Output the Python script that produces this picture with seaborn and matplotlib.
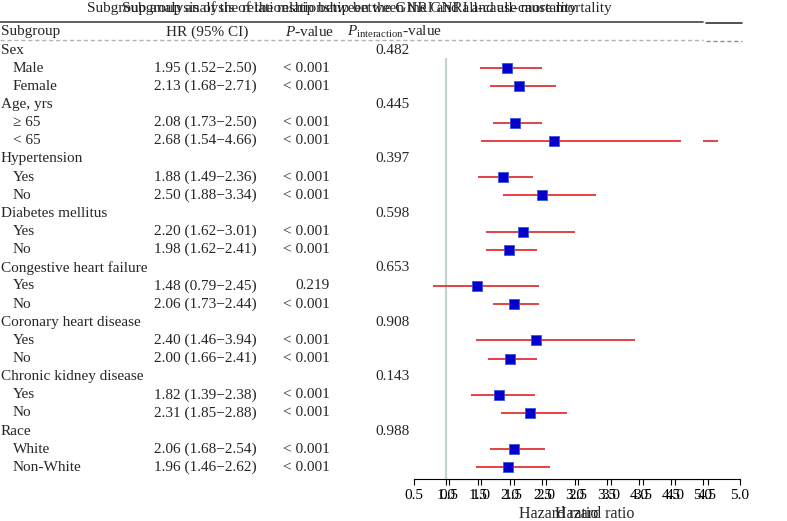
import matplotlib
matplotlib.use('Agg')
import matplotlib.pyplot as plt
import matplotlib.transforms as mtransforms
import pandas as pd
import seaborn as sns

# ---- data ----
groups = ['Sex', 'Age, yrs', 'Hypertension', 'Diabetes mellitus',
          'Congestive heart failure', 'Coronary heart disease',
          'Chronic kidney disease', 'Race']
p_interaction = ['0.482', '0.445', '0.397', '0.598', '0.653', '0.908', '0.143', '0.988']
subgroups = [['Male', 'Female'], ['≥ 65', '< 65'], ['Yes', 'No'], ['Yes', 'No'],
             ['Yes', 'No'], ['Yes', 'No'], ['Yes', 'No'], ['White', 'Non-White']]
hr = [1.95, 2.13, 2.08, 2.68, 1.88, 2.50, 2.20, 1.98,
      1.48, 2.06, 2.40, 2.00, 1.82, 2.31, 2.06, 1.96]
ci_low = [1.52, 1.68, 1.73, 1.54, 1.49, 1.88, 1.62, 1.62,
          0.79, 1.73, 1.46, 1.66, 1.39, 1.85, 1.68, 1.46]
ci_high = [2.50, 2.71, 2.50, 4.66, 2.36, 3.34, 3.01, 2.41,
           2.45, 2.44, 3.94, 2.41, 2.38, 2.88, 2.54, 2.62]
p_value = ['< 0.001', '< 0.001', '< 0.001', '< 0.001', '< 0.001', '< 0.001',
           '< 0.001', '< 0.001', '0.219', '< 0.001', '< 0.001', '< 0.001',
           '< 0.001', '< 0.001', '< 0.001', '< 0.001']
x_ticks = [0.5, 1.0, 1.5, 2.0, 2.5, 3.0, 3.5, 4.0, 4.5, 5.0]
title = 'Subgroup analysis of the relationship between the GNRI and all-cause mortality'

# build the row table (group header row + its two subgroups)
rows = []
k = 0
for g, pint, subs in zip(groups, p_interaction, subgroups):
    rows.append(dict(label=g, kind='group', pint=pint))
    for s in subs:
        rows.append(dict(label=s, kind='sub', hr=hr[k], lo=ci_low[k], hi=ci_high[k], p=p_value[k]))
        k += 1
df = pd.DataFrame(rows)
df['row'] = range(len(df))
est = df[df['kind'] == 'sub']

sns.set_theme(style='white')
plt.rcParams['font.family'] = ['Liberation Serif', 'DejaVu Serif']
plt.rcParams['mathtext.fontset'] = 'custom'
plt.rcParams['mathtext.rm'] = 'Liberation Serif'
plt.rcParams['mathtext.it'] = 'Liberation Serif:italic'

W, H = 787, 521
fig = plt.figure(figsize=(W / 100, H / 100), dpi=100)
fig.patch.set_facecolor('white')

row0, row_h = 50, 18.15
ax_top, ax_bot = 58, 479
ylim = ((ax_bot - row0) / row_h, (ax_top - row0) / row_h)


def forest(ax):
    ax.axvline(1.0, color='#c3d2d2', lw=1.6, zorder=1)
    ax.hlines(est['row'], est['lo'], est['hi'], color='#e03434', lw=1.3, zorder=2)
    sns.scatterplot(data=est, x='hr', y='row', marker='s', s=44, color='#0000cc',
                    edgecolor='#3b55e0', linewidth=0.6, zorder=3, ax=ax, legend=False)
    ax.set_xlim(0.5, 5.0)
    ax.set_ylim(*ylim)
    ax.set_xticks(x_ticks)
    ax.set_xticklabels([f'{t:.1f}' for t in x_ticks])
    ax.set_yticks([])
    ax.set_ylabel('')
    ax.set_xlabel('Hazard ratio', fontsize=11.5, labelpad=3)
    for side in ['left', 'right', 'top']:
        ax.spines[side].set_visible(False)
    ax.spines['bottom'].set_color('black')
    ax.spines['bottom'].set_linewidth(0.8)
    ax.tick_params(axis='x', bottom=True, length=4, width=0.8, color='black',
                   labelsize=11, pad=3, labelcolor='black')


# a second copy of the forest sits behind the first one, shifted right
ax_g = fig.add_axes([449 / W, 1 - ax_bot / H, (740 - 449) / W, (ax_bot - ax_top) / H])
forest(ax_g)
ax_g.set_zorder(1)

ax = fig.add_axes([414 / W, 1 - ax_bot / H, (703 - 414) / W, (ax_bot - ax_top) / H])
forest(ax)
ax.set_zorder(2)
ax.patch.set_facecolor('white')
ax.patch.set_alpha(1)

# table part, x in figure pixels, y in row units
trans = mtransforms.blended_transform_factory(fig.transFigure, ax.transData)
fs = 11
ax.text(1 / W, -1, 'Subgroup', transform=trans, fontsize=fs, va='center', ha='left')
ax.text(207 / W, -1, 'HR (95% CI)', transform=trans, fontsize=fs, va='center', ha='center')
ax.text(309 / W, -1, r'$\mathit{P}$-value', transform=trans, fontsize=fs, va='center', ha='center')
ax.text(347 / W, -1, r'$\mathit{P}_{\mathrm{interaction}}$-value', transform=trans,
        fontsize=fs, va='center', ha='left')

for _, r in df.iterrows():
    if r['kind'] == 'group':
        ax.text(1 / W, r['row'], r['label'], transform=trans, fontsize=fs, va='center')
        ax.text(392 / W, r['row'], r['pint'], transform=trans, fontsize=fs, va='center', ha='center')
    else:
        ax.text(13 / W, r['row'], r['label'], transform=trans, fontsize=fs, va='center')
        ax.text(205 / W, r['row'], f"{r['hr']:.2f} ({r['lo']:.2f}\u2212{r['hi']:.2f})",
                transform=trans, fontsize=fs, va='center', ha='center')
        ax.text(330 / W, r['row'], r['p'], transform=trans, fontsize=fs, va='center', ha='right')

# rules under the title and header
ax.plot([0, 703 / W], [-1.55, -1.55], transform=trans, color='#444444', lw=1.2, clip_on=False)
ax.plot([0, 703 / W], [-0.55, -0.55], transform=trans, color='#a9b5bb', lw=1.0,
        ls=(0, (3, 2)), clip_on=False)
ax.plot([706 / W, 742 / W], [-1.5, -1.5], transform=trans, color='#333333', lw=1.2, clip_on=False)
ax.plot([706 / W, 742 / W], [-0.5, -0.5], transform=trans, color='#8f8f8f', lw=1.0,
        ls=(0, (3, 2)), clip_on=False)

# doubled title
fig.text(332 / W, 1 - 8 / H, title, fontsize=11, ha='center', va='center')
fig.text(367 / W, 1 - 8 / H, title, fontsize=11, ha='center', va='center')

fig.savefig('out.png', dpi=100, facecolor='white')
